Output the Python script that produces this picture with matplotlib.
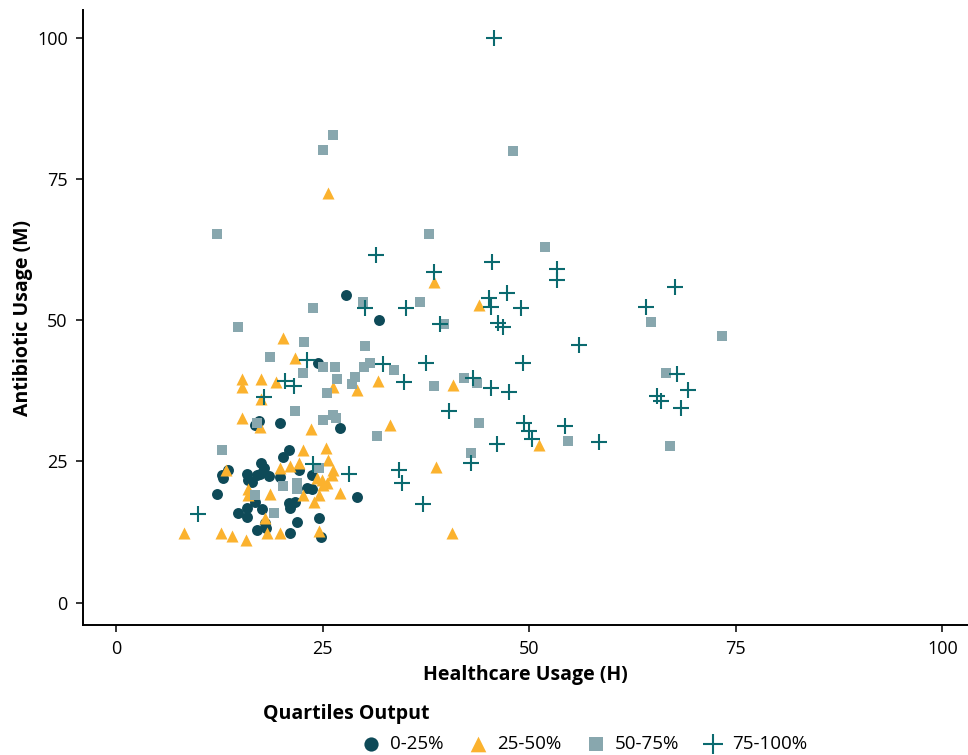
import matplotlib.pyplot as plt

plt.rcParams['font.family'] = ['Open Sans', 'DejaVu Sans']

# 0-25% quartile
q1_h = [27.8, 31.8, 27.1, 19.9, 17.3, 16.8, 20.9, 20.2, 17.6, 17.9, 13.6, 12.8, 12.9, 15.9,
        16.0, 16.5, 17.1, 17.4, 18.5, 19.8, 22.2, 23.7, 23.1, 23.7, 12.2, 29.1, 16.8, 20.9,
        21.6, 21.0, 15.9, 14.8, 15.9, 17.7, 18.0, 21.9, 24.6, 17.1, 18.1, 21.1, 24.8, 24.4]
q1_m = [54.4, 50.0, 30.9, 31.8, 32.2, 31.5, 27.0, 25.8, 24.7, 23.8, 23.5, 22.6, 22.1, 22.8,
        21.7, 21.4, 22.6, 22.8, 22.4, 22.2, 23.5, 22.6, 20.3, 20.1, 19.2, 18.7, 17.8, 17.7,
        17.8, 16.8, 16.8, 15.9, 15.2, 16.6, 14.1, 14.3, 15.0, 12.8, 13.3, 12.3, 11.6, 42.4]

# 25-50% quartile
q2_h = [25.7, 38.5, 43.9, 20.2, 21.6, 15.2, 15.2, 17.6, 19.4, 26.3, 29.2, 31.7, 17.5, 15.3,
        17.4, 23.6, 33.2, 40.8, 51.2, 38.7, 13.3, 22.6, 25.4, 19.8, 21.0, 22.2, 25.7, 26.2,
        26.1, 24.3, 24.9, 25.5, 25.0, 16.0, 16.0, 18.6, 22.6, 24.6, 27.1, 24.0, 18.0, 18.3,
        19.9, 24.5, 8.2, 12.7, 14.0, 15.7, 40.6]
q2_m = [72.5, 56.7, 52.7, 46.8, 43.3, 39.6, 38.2, 39.6, 39.1, 38.2, 37.6, 39.2, 36.0, 32.7,
        31.1, 30.7, 31.4, 38.5, 27.9, 24.0, 23.5, 27.0, 27.4, 23.8, 24.2, 24.7, 25.2, 23.5,
        22.6, 22.1, 21.7, 21.2, 20.8, 20.1, 19.1, 19.2, 19.1, 19.1, 19.4, 17.8, 15.0, 12.3,
        12.3, 12.7, 12.3, 12.3, 11.8, 11.1, 12.3]

# 50-75% quartile
q3_h = [26.3, 25.0, 48.0, 12.2, 37.9, 51.9, 64.7, 73.3, 66.6, 67.0, 54.7, 43.9, 42.9, 42.1,
        43.7, 38.5, 39.7, 36.8, 33.6, 31.6, 29.9, 30.1, 23.8, 14.7, 22.7, 18.6, 25.0, 26.5,
        22.6, 26.7, 30.0, 30.7, 28.9, 28.6, 25.5, 21.7, 25.0, 26.2, 26.6, 17.0, 12.8, 24.5,
        20.2, 21.9, 21.9, 16.8, 19.1]
q3_m = [82.7, 80.1, 79.9, 65.2, 65.2, 62.9, 49.6, 47.2, 40.6, 27.7, 28.6, 31.8, 26.5, 39.8,
        38.9, 38.3, 49.3, 53.2, 41.2, 29.5, 53.2, 45.4, 52.1, 48.8, 46.1, 43.5, 41.7, 41.7,
        40.6, 39.6, 41.7, 42.4, 39.9, 38.7, 37.1, 33.9, 32.3, 33.2, 32.7, 31.8, 27.0, 23.8,
        20.6, 21.2, 20.1, 19.1, 15.9]

# 75-100% quartile
q4_h = [45.7, 31.4, 45.5, 38.5, 53.4, 53.4, 47.3, 45.1, 45.4, 35.1, 49.0, 39.2, 46.2, 46.8,
        56.0, 64.1, 67.7, 67.9, 69.2, 65.5, 66.0, 68.4, 54.3, 58.4, 49.4, 50.0, 50.3, 46.1,
        49.2, 37.5, 43.2, 45.4, 47.5, 32.3, 34.9, 40.3, 42.9, 34.2, 34.6, 37.2, 28.2, 23.8,
        9.9, 23.1, 20.4, 21.5, 17.9, 30.1]
q4_m = [99.9, 61.5, 60.3, 58.5, 59.0, 57.1, 54.8, 53.9, 52.3, 52.1, 52.1, 49.3, 49.5, 48.8,
        45.6, 52.3, 55.9, 40.4, 37.6, 36.6, 35.7, 34.4, 31.3, 28.4, 31.8, 30.4, 28.9, 28.1,
        42.4, 42.4, 39.8, 38.0, 37.3, 42.2, 39.0, 33.9, 24.7, 23.5, 21.2, 17.5, 22.8, 24.6,
        15.7, 43.0, 39.2, 38.3, 36.4, 52.1]

labels = ['0-25%', '25-50%', '50-75%', '75-100%']
colors = ['#0E4A58', '#FBB22E', '#88A7AE', '#0B6A6F']

fig = plt.figure(figsize=(9.68, 7.55), dpi=100)
ax = fig.add_axes([83 / 968, 1 - 625 / 755, 1 - 83 / 968, (625 - 10) / 755])

ax.scatter(q1_h, q1_m, s=62, marker='o', color=colors[0], linewidths=0, label=labels[0])
ax.scatter(q2_h, q2_m, s=75, marker='^', color=colors[1], linewidths=0, label=labels[1])
ax.scatter(q3_h, q3_m, s=55, marker='s', color=colors[2], linewidths=0, label=labels[2])
ax.scatter(q4_h, q4_m, s=130, marker='+', color=colors[3], linewidths=1.5, label=labels[3])

ax.set_xlim(-4.0, 103.1)
ax.set_ylim(-3.95, 104.9)
ax.set_xticks([0, 25, 50, 75, 100])
ax.set_yticks([0, 25, 50, 75, 100])
for side in ['top', 'right']:
    ax.spines[side].set_visible(False)
for side in ['left', 'bottom']:
    ax.spines[side].set_linewidth(1.4)
ax.tick_params(length=5, width=1.1, labelsize=13, colors='black', pad=6)
ax.set_xlabel('Healthcare Usage (H)', fontsize=14, fontweight='bold', labelpad=5)
ax.set_ylabel('Antibiotic Usage (M)', fontsize=14, fontweight='bold', labelpad=3)

fig.text(263 / 968, 1 - 714 / 755, 'Quartiles Output', fontsize=14, fontweight='bold',
         ha='left', va='center')
fig.legend(loc='center', bbox_to_anchor=(584 / 968, 1 - 744 / 755), ncol=4, frameon=False,
           fontsize=13.5, handletextpad=0.45, columnspacing=1.3, borderpad=0, handlelength=1.1,
           markerscale=1.3)

fig.savefig('out.png', dpi=100)
